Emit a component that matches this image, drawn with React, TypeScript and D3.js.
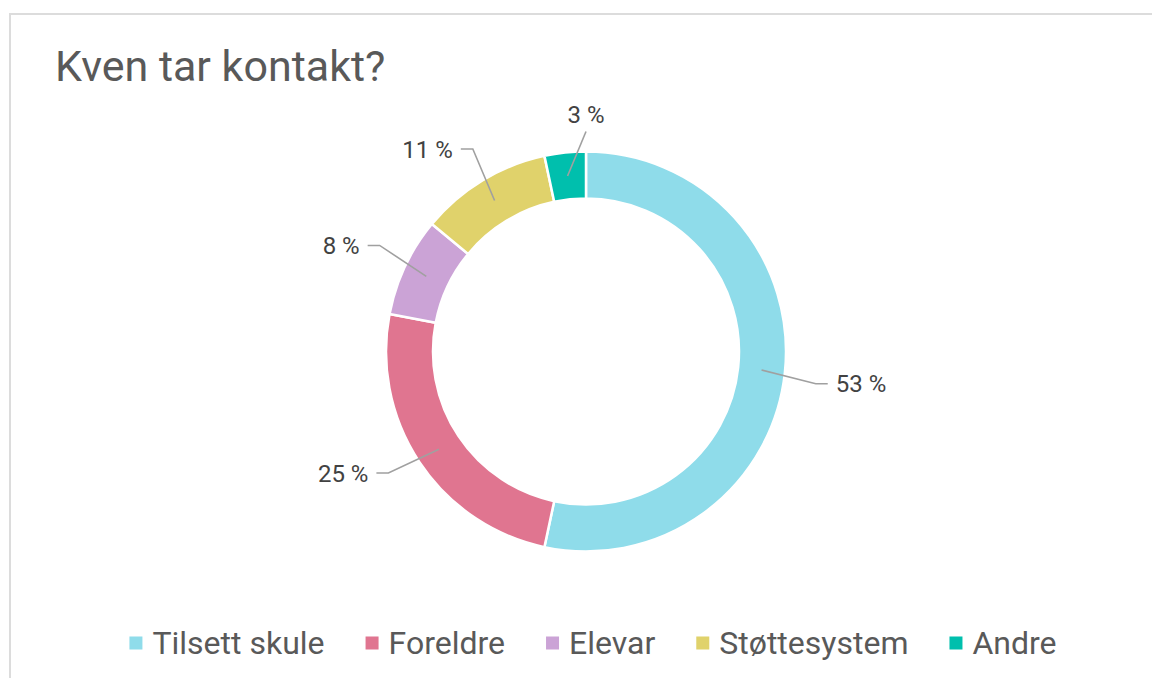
import React from "react";
import * as d3 from "d3";

const categories = ["Tilsett skule", "Foreldre", "Elevar", "Støttesystem", "Andre"];
const values = [80, 37, 12, 16, 5];
const colors = ["#8fdcea", "#e07590", "#cba3d6", "#e0d26b", "#00bfad"];
const title = "Kven tar kontakt?";

const W = 1152;
const H = 678;
const FONT = "Roboto, 'Noto Sans', sans-serif";

function measure(text: string, size: number) {
  if (typeof document === "undefined") return text.length * size * 0.5;
  const c = document.createElement("canvas").getContext("2d")!;
  c.font = `${size}px Roboto`;
  return c.measureText(text).width;
}

export default function App() {
  const cx = 586;
  const cy = 351.5;
  const outer = 200;
  const inner = 153;
  const pie = d3.pie<number>().sort(null).value((d) => d)(values);
  const arc = d3.arc<d3.PieArcDatum<number>>().innerRadius(inner).outerRadius(outer);
  const total = d3.sum(values);

  // legend layout
  const legSize = 32;
  const sq = 13;
  const sqGap = 10;
  const itemGap = 41;
  const widths = categories.map((c) => measure(c, legSize));
  const itemW = widths.map((w) => sq + sqGap + w);
  const totalW = d3.sum(itemW) + itemGap * (categories.length - 1);
  let lx = 593 - totalW / 2;
  const legendItems = categories.map((c, i) => {
    const x = lx;
    lx += itemW[i] + itemGap;
    return { c, x, color: colors[i] };
  });
  const legY = 642;
  const labSize = 24;

  return (
    <div style={{ position: "fixed", left: 0, top: 0, width: W, height: H, background: "#fff" }}>
      <svg width={W} height={H} style={{ display: "block" }} fontFamily={FONT}>
        <rect x={0} y={0} width={W} height={H} fill="#fff" />
        <rect x={10} y={14} width={W + 20} height={H + 20} fill="#fff" stroke="#dcdcdc" strokeWidth={2} />
        <text x={55} y={80.5} fontSize={43} fill="#595959">{title}</text>
        <g transform={`translate(${cx},${cy})`}>
          {pie.map((p, i) => (
            <path key={i} d={arc(p) || ""} fill={colors[i]} stroke="#fff" strokeWidth={2.5} />
          ))}
          {pie.map((p, i) => {
            const mid = (p.startAngle + p.endAngle) / 2;
            const r0 = (inner + outer) / 2;
            const x0 = r0 * Math.sin(mid);
            const y0 = -r0 * Math.cos(mid);
            const ae = mid + (2 * Math.PI) / 180;
            const re = outer * 1.16;
            const x1 = re * Math.sin(ae);
            const y1 = -re * Math.cos(ae);
            const pct = `${Math.round((values[i] / total) * 100)} %`;
            const top = Math.abs(Math.sin(ae)) < 0.15;
            if (top) {
              const yt = -outer * 1.1;
              return (
                <g key={i}>
                  <polyline points={`${x0},${y0} 0,${yt}`} fill="none" stroke="#a0a0a0" strokeWidth={1.6} />
                  <text x={0} y={yt - 9} fontSize={labSize} fill="#424242" textAnchor="middle">{pct}</text>
                </g>
              );
            }
            const dir = Math.sin(ae) > 0 ? 1 : -1;
            const x2 = x1 + dir * 12;
            return (
              <g key={i}>
                <polyline points={`${x0},${y0} ${x1},${y1} ${x2},${y1}`} fill="none" stroke="#a0a0a0" strokeWidth={1.6} />
                <text
                  x={x2 + dir * 8}
                  y={y1}
                  dy="0.36em"
                  fontSize={labSize}
                  fill="#424242"
                  textAnchor={dir > 0 ? "start" : "end"}
                >
                  {pct}
                </text>
              </g>
            );
          })}
        </g>
        <g>
          {legendItems.map((it, i) => (
            <g key={i}>
              <rect x={it.x} y={legY + 1 - sq / 2} width={sq} height={sq} fill={it.color} />
              <text x={it.x + sq + sqGap} y={legY} dy="0.36em" fontSize={legSize} fill="#595959">{it.c}</text>
            </g>
          ))}
        </g>
      </svg>
    </div>
  );
}
